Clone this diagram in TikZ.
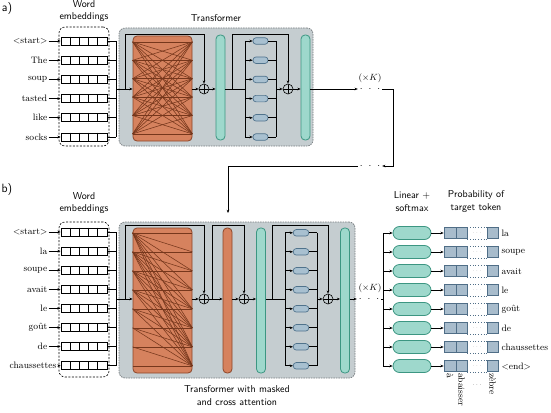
\documentclass[tikz,border=0pt]{standalone}
\usepackage{fontspec}
\usetikzlibrary{arrows.meta,calc}
\definecolor{gbox}{RGB}{197,205,208}
\definecolor{gborder}{RGB}{120,125,128}
\definecolor{orgfill}{RGB}{214,130,94}
\definecolor{orgborder}{RGB}{140,70,40}
\definecolor{attline}{RGB}{118,55,28}
\definecolor{tealfill}{RGB}{158,216,204}
\definecolor{tealborder}{RGB}{60,150,130}
\definecolor{bluefill}{RGB}{168,192,208}
\definecolor{blueborder}{RGB}{80,115,140}
\definecolor{probfill}{RGB}{168,188,204}
\definecolor{probborder}{RGB}{80,110,135}
\newcommand{\threedots}{$\cdot$\hspace{6pt}$\cdot$\hspace{6pt}$\cdot$}
\begin{document}
\begin{tikzpicture}[x=1pt,y=-1pt,
  conn/.style={line width=0.8pt, black},
  arr/.style={conn, -{Stealth[length=3.2pt,width=2.6pt]}},
  embbox/.style={draw, dash pattern=on 2pt off 1.5pt, rounded corners=6pt, line width=0.6pt, minimum width=50pt, inner sep=0},
  rowbox/.style={draw, line width=0.8pt, minimum width=46pt, minimum height=8pt, inner sep=0},
  tbox/.style={draw=gborder, fill=gbox, dash pattern=on 1.5pt off 1pt, rounded corners=6pt, line width=0.7pt, inner sep=0},
  attn/.style={draw=orgborder, fill=orgfill, rounded corners=4pt, line width=0.8pt, minimum width=59pt, inner sep=0},
  thinorg/.style={draw=orgborder, fill=orgfill, rounded corners=4pt, line width=0.8pt, minimum width=9pt, inner sep=0},
  norm/.style={draw=tealborder, fill=tealfill, rounded corners=4pt, line width=0.8pt, minimum width=9pt, inner sep=0},
  ff/.style={draw=blueborder, fill=bluefill, rounded corners=3pt, line width=0.7pt, minimum width=15pt, minimum height=6.5pt, inner sep=0},
  outbox/.style={draw=tealborder, fill=tealfill, rounded corners=6.5pt, line width=0.8pt, minimum width=38pt, minimum height=13pt, inner sep=0},
  pcell/.style={draw=probborder, fill=probfill, line width=0.7pt, minimum height=11pt, inner sep=0},
  addc/.style={circle, draw, line width=0.6pt, minimum size=10pt, inner sep=0,
    path picture={\draw[line width=0.6pt] (path picture bounding box.north) -- (path picture bounding box.south) (path picture bounding box.west) -- (path picture bounding box.east);}},
  aline/.style={draw=attline, line width=0.55pt},
  lab/.style={font=\fontsize{9.3}{11}\selectfont, inner sep=1pt},
  sf/.style={font=\fontsize{10}{12.5}\selectfont\sffamily, align=center},
  dots/.style={minimum width=24pt, inner sep=0, font=\fontsize{10}{11}\selectfont},
  km/.style={font=\fontsize{9.3}{11}\selectfont, inner sep=0}
]
\useasboundingbox (0,0) rectangle (551,412);

%================ a) =================
\node[font=\fontsize{12}{14}\selectfont\sffamily] (la) at (7,9) {a)};
\node[sf] (wordA) at (84,11) {Word\\embeddings};
\node[embbox, minimum height=119pt] (embA) at (84,86.5) {};
\node[tbox, minimum width=194pt, minimum height=118pt] (TA) at (216,87) {};
\node[sf] (titA) at (216,18) {Transformer};

\coordinate (trA) at (116,89);
\foreach \t [count=\k from 0] in {{$<$start$>$},The,soup,tasted,like,socks} {
  \node[rowbox] (ra\k) at (84,{41+19.2*\k}) {};
  \foreach \c in {1,...,4}
    \draw[line width=0.6pt] ($(ra\k.north west)+(9.2*\c,0)$) -- ($(ra\k.south west)+(9.2*\c,0)$);
  \node[lab, anchor=east] (wa\k) at (48.5,{41+19.2*\k}) {\t};
  \draw[arr] (wa\k.east) -- (ra\k.west);
  \draw[conn] (ra\k.east) -- (ra\k.east -| trA);
}
\draw[conn] (ra0.east -| trA) -- (ra5.east -| trA);

\node[attn, minimum height=105pt] (attA) at (162.5,88.5) {};
\foreach \i in {0,...,5}
  \foreach \j in {0,...,5}
    \draw[aline] ($(attA.north west)+(0,6.3+18.4*\i)$) -- ($(attA.north east)+(0,6.3+18.4*\j)$);
\draw[arr] (trA) -- (attA.west |- trA);

\coordinate (topA) at (0,34);
\node[addc] (c1A) at (204,89) {};
\draw[arr] (attA.east |- c1A) -- (c1A.west);
\coordinate (rA1) at (125,89);
\draw[arr] (rA1) -- (rA1 |- topA) -| (c1A.north);

\node[norm, minimum height=105pt] (n1A) at (220.5,87.5) {};
\draw[arr] (c1A.east) -- (n1A.west |- c1A);
\coordinate (trA2) at (245,89);
\coordinate (colA) at (276,89);
\draw[conn] (n1A.east |- trA2) -- (trA2);
\node[addc] (c2A) at (288,89) {};
\coordinate (rA2) at (232,89);
\draw[arr] (rA2) -- (rA2 |- topA) -| (c2A.north);
\foreach \k in {0,...,5} {
  \node[ff] (fa\k) at (260.5,{41+19.2*\k}) {};
  \draw[arr] (fa\k.west -| trA2) -- (fa\k.west);
  \draw[conn] (fa\k.east) -- (fa\k.east -| colA);
}
\draw[conn] (fa0.west -| trA2) -- (fa5.west -| trA2);
\draw[conn] (fa0.east -| colA) -- (fa5.east -| colA);
\draw[arr] (colA) -- (c2A.west);

\node[norm, minimum height=105pt] (n2A) at (305.5,87.5) {};
\draw[arr] (c2A.east) -- (n2A.west |- c2A);

\node[dots] (d1) at (370,89) {\threedots};
\node[km] (kA) at (370,78) {$(\times K)$};
\draw[arr] (n2A.east |- d1) -- (d1.west);
\coordinate (turnA) at (393,89);
\node[dots] (d2) at (370,166) {\threedots};
\draw[arr] (d1.east) -- (turnA) |- (d2.east);
\coordinate (xin) at (228,213);
\draw[arr] (d2.west) -| (xin);

%================ b) =================
\node[font=\fontsize{12}{14}\selectfont\sffamily] (lb) at (7,190) {b)};
\node[sf] (wordB) at (84,203) {Word\\embeddings};
\node[embbox, minimum height=155pt] (embB) at (84,299.5) {};
\node[tbox, minimum width=236pt, minimum height=156pt] (TB) at (237,300) {};
\node[sf] (titB) at (237,395.5) {Transformer with masked\\and cross attention};

\coordinate (trB) at (116,299);
\foreach \t [count=\k from 0] in {{$<$start$>$},la,soupe,avait,le,goût,de} {
  \node[rowbox] (rb\k) at (84,{232+19.1*\k}) {};
  \foreach \c in {1,...,4}
    \draw[line width=0.6pt] ($(rb\k.north west)+(9.2*\c,0)$) -- ($(rb\k.south west)+(9.2*\c,0)$);
  \node[lab, anchor=east] (wb\k) at (48.5,{232+19.1*\k}) {\t};
  \draw[arr] (wb\k.east) -- (rb\k.west);
  \draw[conn] (rb\k.east) -- (rb\k.east -| trB);
}
\node[rowbox] (rb7) at (84,365.7) {};
\foreach \c in {1,...,4}
  \draw[line width=0.6pt] ($(rb7.north west)+(9.2*\c,0)$) -- ($(rb7.south west)+(9.2*\c,0)$);
\node[lab, anchor=east] (wb7) at (57.5,365.7) {chaussettes};
\draw[arr] (wb7.east) -- (rb7.west);
\draw[conn] (rb7.east) -- (rb7.east -| trB);
\draw[conn] (rb0.east -| trB) -- (rb7.east -| trB);

\node[attn, minimum height=145pt] (attB) at (162.5,300.5) {};
\foreach \i in {0,...,7}
  \foreach \j in {\i,...,7}
    \draw[aline] ($(attB.north west)+(0,5.3+19*\i)$) -- ($(attB.north east)+(0,5.3+19*\j)$);
\draw[arr] (trB) -- (attB.west |- trB);

\coordinate (topB) at (0,225);
\node[addc] (c1B) at (204,299) {};
\draw[arr] (attB.east |- c1B) -- (c1B.west);
\coordinate (rB1) at (125,299);
\draw[arr] (rB1) -- (rB1 |- topB) -| (c1B.north);

\node[thinorg, minimum height=145pt] (xB) at (227.5,300.5) {};
\draw[arr] (c1B.east) -- (xB.west |- c1B);
\node[addc] (c2B) at (244,299) {};
\coordinate (rB2) at (212,299);
\draw[arr] (rB2) -- (rB2 |- topB) -| (c2B.north);
\draw[arr] (xB.east |- c2B) -- (c2B.west);

\node[norm, minimum height=145pt] (n1B) at (261,300.5) {};
\draw[arr] (c2B.east) -- (n1B.west |- c2B);
\coordinate (trB2) at (285,299);
\coordinate (colB) at (317,299);
\draw[conn] (n1B.east |- trB2) -- (trB2);
\node[addc] (c3B) at (328,299) {};
\coordinate (rB3) at (272,299);
\draw[arr] (rB3) -- (rB3 |- topB) -| (c3B.north);
\foreach \k in {0,...,7} {
  \node[ff, minimum width=15.5pt] (fb\k) at (301,{232.8+19*\k}) {};
  \draw[arr] (fb\k.west -| trB2) -- (fb\k.west);
  \draw[conn] (fb\k.east) -- (fb\k.east -| colB);
}
\draw[conn] (fb0.west -| trB2) -- (fb7.west -| trB2);
\draw[conn] (fb0.east -| colB) -- (fb7.east -| colB);
\draw[arr] (colB) -- (c3B.west);

\node[norm, minimum height=145pt] (n2B) at (345,300.5) {};
\draw[arr] (c3B.east) -- (n2B.west |- c3B);

\node[dots] (d3) at (369,299) {\threedots};
\node[km] (kB) at (370,288) {$(\times K)$};
\draw[arr] (n2B.east |- d3) -- (d3.west);
\coordinate (distB) at (383,299);
\draw[conn] (d3.east) -- (distB);

\node[sf] (linl) at (412,201.5) {Linear +\\softmax};
\node[sf] (probl) at (476,201.5) {Probability of\\target token};

\foreach \t [count=\k from 0] in {la,soupe,avait,le,goût,de,chaussettes,{$<$end$>$}} {
  \node[outbox] (ob\k) at (412,{233+19*\k}) {};
  \draw[arr] (ob\k.west -| distB) -- (ob\k.west);
  \node[pcell, minimum width=12pt] (pa\k) at (450,{233+19*\k}) {};
  \node[pcell, minimum width=11pt] (pb\k) at (461.5,{233+19*\k}) {};
  \node[pcell, minimum width=11pt] (pc\k) at (492.5,{233+19*\k}) {};
  \draw[probborder, line width=0.7pt, dotted] (pb\k.north east) -- (pc\k.north west);
  \draw[probborder, line width=0.7pt, dotted] (pb\k.south east) -- (pc\k.south west);
  \node[font=\tiny, text=gray, inner sep=0] (pd\k) at ($(pb\k.east)!0.5!(pc\k.west)$) {$\cdots$};
  \draw[arr] (ob\k.east) -- (pa\k.west);
  \node[lab, anchor=west] (tl\k) at ($(pc\k.east)+(2,0)$) {\t};
}
\draw[conn] (ob0.west -| distB) -- (ob7.west -| distB);

\node[lab, rotate=-90, anchor=west] (va) at (pa7.south) {à};
\node[lab, rotate=-90, anchor=west] (vb) at (pb7.south) {abaisser};
\node[lab, rotate=-90, anchor=west] (vc) at (pc7.south) {zèbre};
\node[font=\tiny, inner sep=0] (vd) at (477,385) {$\cdots$};
\end{tikzpicture}
\end{document}
